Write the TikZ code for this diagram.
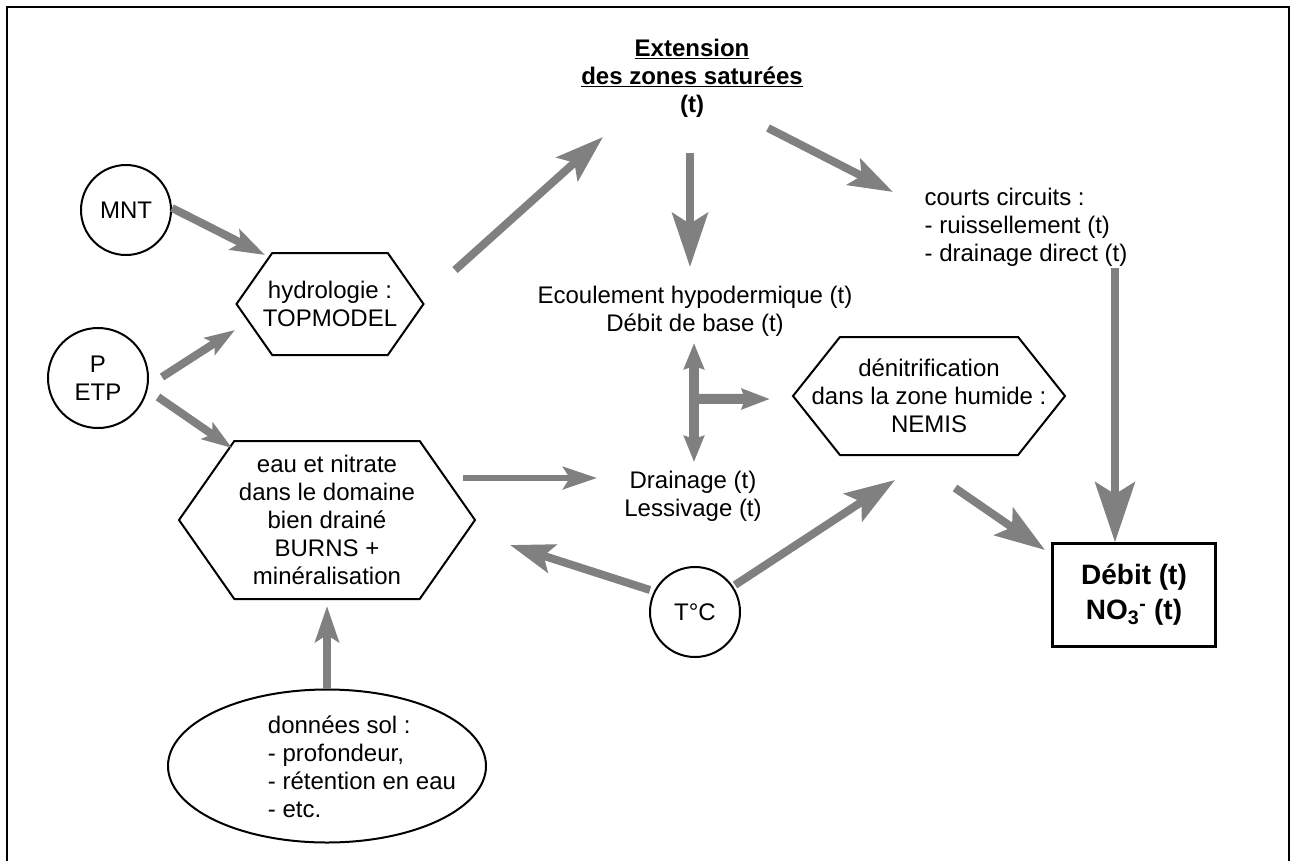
\documentclass[tikz,border=0pt]{standalone}
\usepackage{fontspec}
\setmainfont{Liberation Sans}
\usetikzlibrary{arrows.meta}
\usetikzlibrary{calc}
\usetikzlibrary{shapes.geometric}
\usetikzlibrary{shapes.symbols}
\definecolor{flowgray}{RGB}{128,128,128}
\tikzset{
    txt/.style={font=\fontsize{24}{28}\selectfont, align=center, inner sep=0pt},
    circ/.style={txt, draw, circle, line width=2pt},
    hexa/.style={draw, line width=2pt, inner sep=0pt, shape=signal, signal to=west and east, signal pointer angle=110},
    fat/.style={draw=flowgray, line width=8pt, -{Stealth[length=#1,width=0.66*#1,inset=0.2*#1]}},
    fat/.default=44pt,
    dbl/.style={draw=flowgray, line width=10pt, {Stealth[length=26pt,width=20pt,inset=3pt]}-{Stealth[length=26pt,width=20pt,inset=3pt]}},
    branch/.style={draw=flowgray, line width=10pt, -{Stealth[length=28pt,width=20pt,inset=3pt]}}
}

\begin{document}
\begin{tikzpicture}[x=1pt,y=-1pt]
\path[use as bounding box] (0,0) rectangle (1293,860);
\draw[line width=2pt] (7,880) -- (7,7) -- (1289,7) -- (1289,880);

\node[txt, font=\fontsize{24}{28}\selectfont\bfseries] (ext) at (692,78) {\underline{Extension}\\\underline{des zones saturées}\\(t)};
\node[circ, minimum size=90pt] (mnt) at (126,210) {MNT};
\node[circ, minimum size=100pt] (petp) at (98,378) {P\\ETP};
\node[hexa, minimum width=187pt, minimum height=102pt, label={[txt]center:{hydrologie :\\TOPMODEL}}] (topm) at (330,304) {};
\node[hexa, minimum width=296pt, minimum height=158pt, label={[txt]center:{eau et nitrate\\dans le domaine\\bien drainé\\BURNS +\\minéralisation}}] (burns) at (327,520) {};
\node[hexa, minimum width=272pt, minimum height=118pt, signal pointer angle=103, label={[txt]center:{dénitrification\\dans la zone humide :\\NEMIS}}] (nemis) at (929,396) {};
\node[draw, line width=2.5pt, minimum width=163pt, minimum height=103pt, align=center, font=\fontsize{28}{35}\selectfont\bfseries] (debit) at (1134,595) {Débit (t)\\NO\textsubscript{3}\textsuperscript{-} (t)};
\node[circ, minimum size=90pt] (tc) at (695,612) {T°C};
\node[draw, ellipse, line width=2pt, minimum width=318pt, minimum height=153pt] (sol) at (327,766) {};
\node[txt, align=left] (soltxt) at (362,767) {données sol :\\- profondeur,\\- rétention en eau\\- etc.};
\node[txt] (ecoul) at (695,311) {Ecoulement hypodermique (t)\\Débit de base (t)};
\node[txt] (drain) at (693,496) {Drainage (t)\\Lessivage (t)};
\node[txt, align=left] (courts) at (1026,227) {courts circuits :\\- ruissellement (t)\\- drainage direct (t)};

\draw[fat=34pt] ($(mnt)+(46,-2)$) -- ($(topm)+(-65,-49)$);
\draw[fat=30pt] ($(petp)+(64,-1)$) -- ($(topm)+(-95,26)$);
\draw[fat=30pt] ($(petp)+(60,19)$) -- ($(burns)+(-95,-72)$);
\draw[fat=48pt] ($(topm)+(125,-34)$) -- ($(ext)+(-89,59)$);
\draw[fat=54pt] ($(ext)+(-2,75)$) -- ($(ecoul)+(-5,-44)$);
\draw[fat=44pt] ($(ext)+(76,50)$) -- ($(courts)+(-133,-35)$);
\draw[fat=60pt] ($(courts)+(89,41)$) -- ($(debit.north)+(-19,0)$);
\draw[fat=50pt] ($(nemis)+(26,92)$) -- ($(debit)+(-89,-45)$);
\draw[fat=34pt, line width=6pt] ($(burns)+(136,-42)$) -- ($(drain)+(-96,-18)$);
\draw[fat=44pt] ($(tc)+(-45,-22)$) -- ($(burns)+(183,25)$);
\draw[fat=50pt] ($(tc)+(40,-27)$) -- ($(nemis)+(-34,84)$);
\draw[fat=36pt] (sol.north) -- ($(burns.south)+(0,6)$);
\draw[dbl] ($(ecoul)+(-1,32)$) -- coordinate[pos=0.47] (mid) ($(drain)+(1,-34)$);
\draw[branch] ($(mid)+(-5,0)$) -- ($(nemis)+(-159,3)$);
\end{tikzpicture}
\end{document}
